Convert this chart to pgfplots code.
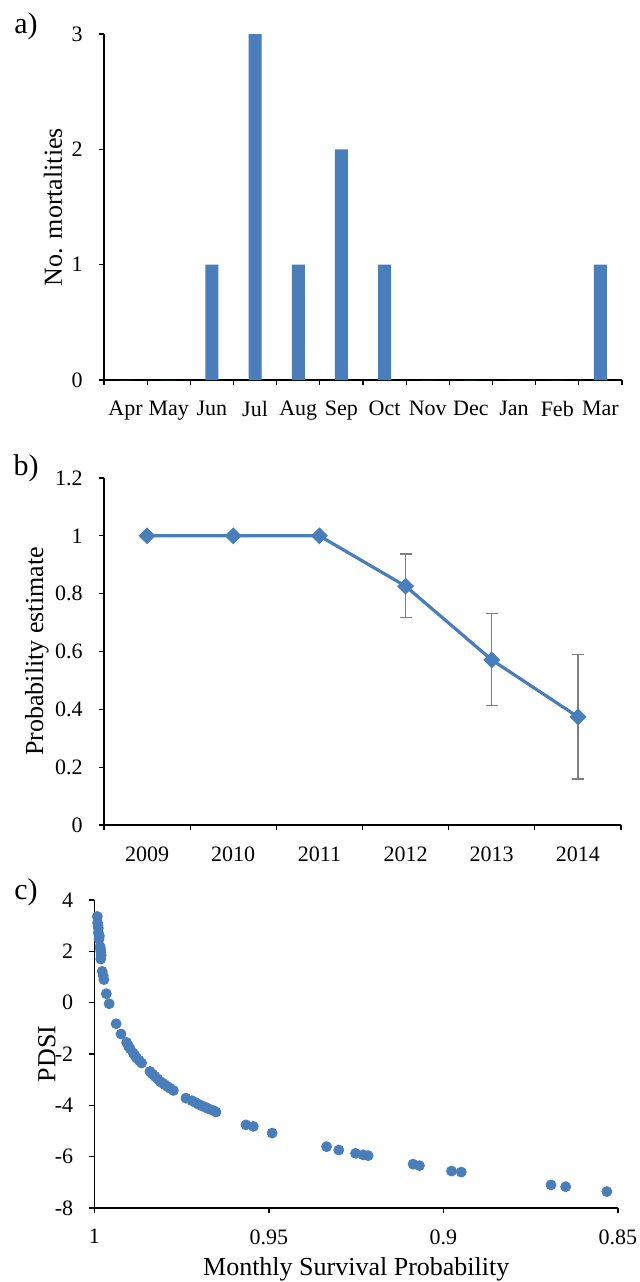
\documentclass[border=0pt]{standalone}
\usepackage{fontspec}
\setmainfont{Liberation Serif}
\usepackage{pgfplots}
\usepackage{pgfplotstable}
\pgfplotsset{compat=1.18}
\definecolor{xblue}{HTML}{4A7EBB}
\definecolor{errgray}{HTML}{7F7F7F}

\pgfplotstableread{
x y
0.9992 3.36
0.9991 3.11
0.9990 3.00
0.9989 2.91
0.9989 2.72
0.9986 2.60
0.9987 2.48
0.9984 2.19
0.9983 2.10
0.9982 2.00
0.9981 1.85
0.9982 1.70
0.9978 1.22
0.9975 1.05
0.9973 0.90
0.9966 0.35
0.9958 -0.04
0.9938 -0.82
0.9924 -1.22
0.9908 -1.55
0.9903 -1.68
0.9898 -1.79
0.9889 -1.96
0.9884 -2.06
0.9879 -2.16
0.9872 -2.25
0.9865 -2.35
0.9841 -2.68
0.9834 -2.78
0.9827 -2.87
0.9819 -2.97
0.9812 -3.07
0.9805 -3.13
0.9798 -3.20
0.9791 -3.27
0.9784 -3.33
0.9774 -3.42
0.9738 -3.72
0.9721 -3.82
0.9712 -3.88
0.9703 -3.95
0.9692 -4.02
0.9681 -4.08
0.9674 -4.13
0.9660 -4.20
0.9652 -4.26
0.9566 -4.76
0.9545 -4.82
0.9491 -5.08
0.9335 -5.61
0.9300 -5.74
0.9252 -5.87
0.9230 -5.93
0.9216 -5.96
0.9087 -6.29
0.9069 -6.35
0.8977 -6.56
0.8949 -6.60
0.8692 -7.10
0.8650 -7.17
0.8532 -7.36
}\pdsitable

\begin{document}
\begin{tikzpicture}
\path[use as bounding box] (0,0) rectangle (319.5pt,-641pt);
\pgfplotsset{
  excel/.style={
    scale only axis,
    anchor=south west,
    axis lines=left,
    axis line style={-, line width=0.6pt, black},
    tick align=outside,
    major tick length=2.5pt,
    tick style={black, line width=0.6pt},
    /pgf/number format/assume math mode=true,
    tick label style={font=\fontsize{11}{13}\selectfont},
    yticklabel style={anchor=east, inner sep=0pt, xshift=-8pt},
    xticklabel style={anchor=north, inner sep=0pt, yshift=-8pt},
    clip=false,
  }
}
% ---------- panel a ----------
\begin{axis}[excel, name=pa,
  at={(52pt,-190pt)}, width=259pt, height=173pt,
  xmin=-0.5, xmax=11.5, ymin=0, ymax=3,
  xtick={-0.5,0.5,...,11.5},
  xticklabels={Apr,May,Jun,Jul,Aug,Sep,Oct,Nov,Dec,Jan,Feb,Mar},
  x tick label as interval,
  ytick={0,1,2,3},
]
\addplot[ybar, bar width=6.5pt, fill=xblue, draw=none] coordinates {
(0,0) (1,0) (2,1) (3,3) (4,1) (5,2) (6,1) (7,0) (8,0) (9,0) (10,0) (11,1)};
\end{axis}
\node[rotate=90, font=\fontsize{13}{15}\selectfont] at ([xshift=-25.5pt]pa.west) {No. mortalities};
\node[font=\fontsize{15}{17}\selectfont] at (13pt,-13pt) {a)};
% ---------- panel b ----------
\begin{axis}[excel, name=pb,
  at={(52pt,-412.5pt)}, width=258.5pt, height=173.5pt,
  xmin=-0.5, xmax=5.5, ymin=0, ymax=1.2,
  xtick={-0.5,0.5,...,5.5},
  xticklabels={2009,2010,2011,2012,2013,2014},
  x tick label as interval,
  ytick={0,0.2,0.4,0.6,0.8,1,1.2},
]
\addplot[draw=none, mark=none, forget plot,
  error bars/.cd, y dir=both, y explicit,
  error bar style={draw=errgray, solid, line width=0.6pt},
  error mark options={rotate=90, draw=errgray, mark size=3pt, line width=0.6pt}]
  table[x=x, y=y, y error plus=ep, y error minus=em] {
x y ep em
3 0.826 0.111 0.108
4 0.571 0.160 0.159
5 0.374 0.216 0.215
};
\addplot[xblue, line width=1.6pt, mark=square*, mark size=2.2pt,
  mark options={rotate=45, solid, fill=xblue}] table[x=x, y=y] {
x y
0 1
1 1
2 1
3 0.826
4 0.571
5 0.374
};
\end{axis}
\node[rotate=90, font=\fontsize{13}{15}\selectfont] at ([xshift=-33.5pt]pb.west) {Probability estimate};
\node[font=\fontsize{15}{17}\selectfont] at (13pt,-234pt) {b)};
% ---------- panel c ----------
\begin{axis}[excel, name=pc,
  at={(47.25pt,-604pt)}, width=261.75pt, height=154pt,
  x dir=reverse,
  xmin=0.85, xmax=1, ymin=-8, ymax=4,
  xtick={0.85,0.9,0.95,1},
  xticklabels={0.85,0.9,0.95,1},
  ytick={-8,-6,-4,-2,0,2,4},
  yticklabels={-8,-6,-4,-2,0,2,4},
]
\addplot[only marks, mark=*, mark size=2.5pt, xblue, mark options={draw=xblue, fill=xblue}] table[x=x, y=y] {\pdsitable};
\end{axis}
\node[rotate=90, font=\fontsize{13}{15}\selectfont] at ([xshift=-23.75pt]pc.west) {PDSI};
\node[font=\fontsize{13}{15}\selectfont] at ([yshift=-30.5pt]pc.south) {Monthly Survival Probability};
\node[font=\fontsize{15}{17}\selectfont] at (13pt,-446pt) {c)};
\end{tikzpicture}
\end{document}
